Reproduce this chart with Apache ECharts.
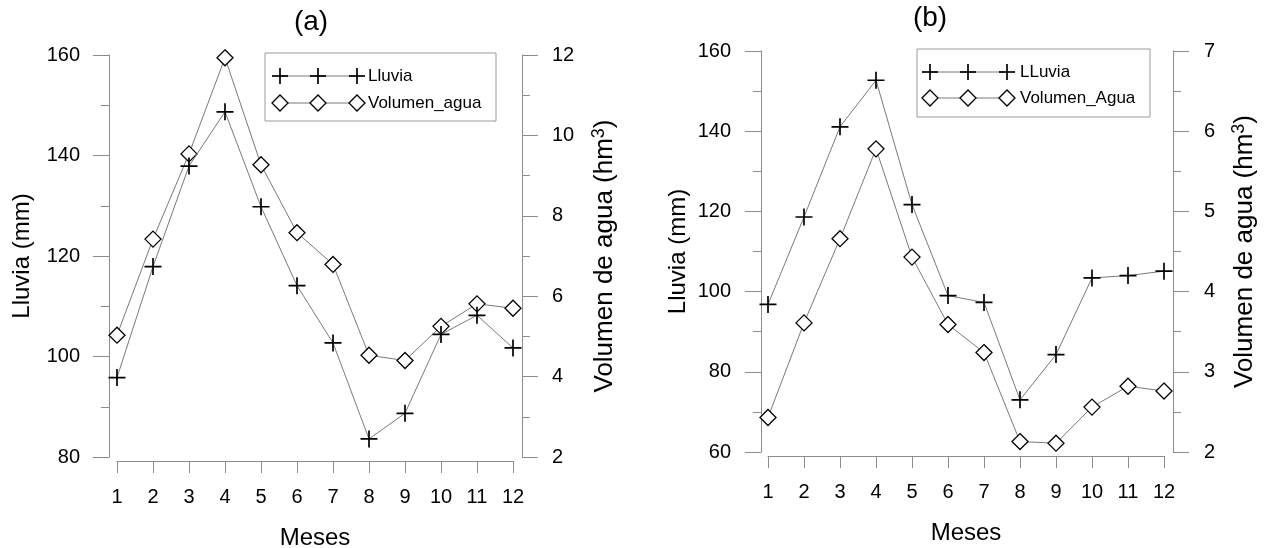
<!DOCTYPE html>
<html>
<head>
<meta charset="utf-8">
<script src="https://cdn.jsdelivr.net/npm/echarts@6/dist/echarts.min.js"></script>
<style>
  html, body { margin: 0; padding: 0; background: #fff; }
  #chart { width: 1265px; height: 548px; }
</style>
</head>
<body>
<div id="chart"></div>
<script>
// Months on the horizontal axis
const meses = ['1', '2', '3', '4', '5', '6', '7', '8', '9', '10', '11', '12'];

// Panel (a): monthly rainfall (mm) and water volume (hm3)
const lluviaA  = [95.8, 117.9, 137.9, 148.7, 129.8, 114.1, 102.7, 83.6, 88.7, 104.4, 108.2, 101.7];
const volumenA = [5.03, 7.42, 9.54, 11.93, 9.27, 7.58, 6.79, 4.53, 4.40, 5.25, 5.81, 5.70];

// Panel (b): monthly rainfall (mm) and water volume (hm3)
const lluviaB  = [96.8, 118.6, 141.1, 152.7, 121.7, 99.0, 97.3, 73.0, 84.3, 103.4, 104.0, 105.1];
const volumenB = [2.43, 3.61, 4.66, 5.78, 4.43, 3.59, 3.24, 2.13, 2.11, 2.56, 2.82, 2.76];

// Axis ranges and tick steps
const lluviaAxisA  = { min: 80, max: 160, interval: 20 };
const volumenAxisA = { min: 2,  max: 12,  interval: 2 };
const lluviaAxisB  = { min: 60, max: 160, interval: 20 };
const volumenAxisB = { min: 2,  max: 7,   interval: 1 };

// Texts
const titles = ['(a)', '(b)'];
const legendA = ['Lluvia', 'Volumen_agua'];
const legendB = ['LLuvia', 'Volumen_Agua'];
const xName = 'Meses';
const yLeftName = 'Lluvia (mm)';

const FONT = '"Liberation Sans", Arial, Helvetica, sans-serif';
const AXIS_GRAY = '#8c8c8c';
const LINE_GRAY = '#7a7a7a';

// Filled plus-sign marker
const CROSS = 'path://M7.2,0H8.8V7.2H16V8.8H8.8V16H7.2V8.8H0V7.2H7.2Z';

const chart = echarts.init(document.getElementById('chart'), null, { renderer: 'canvas' });

function xAxisFor(gridIndex) {
  return {
    type: 'category',
    gridIndex: gridIndex,
    data: meses,
    boundaryGap: false,
    offset: 4,
    axisLine: { show: true, lineStyle: { color: AXIS_GRAY, width: 1 } },
    axisTick: { show: true, length: 12, inside: false, lineStyle: { color: AXIS_GRAY } },
    axisLabel: { interval: 0, margin: 26, color: '#000', fontSize: 20, fontFamily: FONT },
    splitLine: { show: false },
    name: xName,
    nameLocation: 'middle',
    nameGap: 65,
    nameTextStyle: { color: '#000', fontSize: 24, fontFamily: FONT }
  };
}

function yAxisFor(gridIndex, range, position, offset, name, nameGap, labelMargin, nameSize) {
  return {
    type: 'value',
    gridIndex: gridIndex,
    position: position,
    offset: offset,
    min: range.min,
    max: range.max,
    interval: range.interval,
    axisLine: { show: true, lineStyle: { color: AXIS_GRAY, width: 1 } },
    axisTick: { show: true, length: 16, inside: false, lineStyle: { color: AXIS_GRAY } },
    minorTick: { show: true, splitNumber: 2, length: 8, lineStyle: { color: AXIS_GRAY } },
    axisLabel: { margin: labelMargin, color: '#000', fontSize: 20, fontFamily: FONT },
    splitLine: { show: false },
    minorSplitLine: { show: false },
    name: name,
    nameLocation: 'middle',
    nameGap: nameGap,
    nameRotate: 90,
    nameTextStyle: {
      color: '#000', fontSize: nameSize, fontFamily: FONT, lineHeight: 30,
      rich: {
        sup: { fontSize: 18, fontFamily: FONT, color: '#000', verticalAlign: 'top', lineHeight: 30 }
      }
    }
  };
}

function lluviaSeries(name, data, xi, yi) {
  return {
    type: 'line', name: name, data: data,
    xAxisIndex: xi, yAxisIndex: yi,
    symbol: CROSS, symbolSize: 17,
    clip: false,
    lineStyle: { color: LINE_GRAY, width: 1 },
    itemStyle: { color: '#000', borderWidth: 0 },
    emphasis: { disabled: true },
    z: 3
  };
}

function volumenSeries(name, data, xi, yi) {
  return {
    type: 'line', name: name, data: data,
    xAxisIndex: xi, yAxisIndex: yi,
    symbol: 'diamond', symbolSize: 16,
    clip: false,
    lineStyle: { color: LINE_GRAY, width: 1 },
    itemStyle: { color: '#fff', borderColor: '#000', borderWidth: 1.3 },
    emphasis: { disabled: true },
    z: 2
  };
}

// Hand-built legend box: three markers joined by a line, then the label
function legendBox(left, top, width, height, labels, markerXs, textX, rowYs) {
  const children = [{
    type: 'rect',
    shape: { x: left, y: top, width: width, height: height },
    style: { fill: '#fff', stroke: '#9a9a9a', lineWidth: 1 }
  }];
  const y1 = top + rowYs[0], y2 = top + rowYs[1];
  const x0 = left + markerXs[0], x2 = left + markerXs[2];
  children.push({ type: 'line', shape: { x1: x0, y1: y1, x2: x2, y2: y1 }, style: { stroke: LINE_GRAY, lineWidth: 1 } });
  children.push({ type: 'line', shape: { x1: x0, y1: y2, x2: x2, y2: y2 }, style: { stroke: LINE_GRAY, lineWidth: 1 } });
  markerXs.forEach(function (mx) {
    const cx = left + mx;
    children.push({ type: 'line', shape: { x1: cx - 8, y1: y1, x2: cx + 8, y2: y1 }, style: { stroke: '#000', lineWidth: 1.7 } });
    children.push({ type: 'line', shape: { x1: cx, y1: y1 - 8, x2: cx, y2: y1 + 8 }, style: { stroke: '#000', lineWidth: 1.7 } });
    children.push({
      type: 'polygon',
      shape: { points: [[cx - 8, y2], [cx, y2 - 8], [cx + 8, y2], [cx, y2 + 8]] },
      style: { fill: '#fff', stroke: '#000', lineWidth: 1.3 }
    });
  });
  children.push({ type: 'text', x: left + textX, y: y1, style: { text: labels[0], fill: '#000', fontSize: 17, fontFamily: FONT, verticalAlign: 'middle', align: 'left' } });
  children.push({ type: 'text', x: left + textX, y: y2, style: { text: labels[1], fill: '#000', fontSize: 17, fontFamily: FONT, verticalAlign: 'middle', align: 'left' } });
  return { type: 'group', silent: true, children: children };
}

const volName = 'Volumen de agua (hm{sup|3})';

const option = {
  backgroundColor: '#fff',
  animation: false,
  textStyle: { fontFamily: FONT },
  grid: [
    { left: 117, top: 55, width: 396, height: 402, outerBoundsMode: 'none', containLabel: false },
    { left: 768, top: 51, width: 396, height: 401, outerBoundsMode: 'none', containLabel: false }
  ],
  xAxis: [xAxisFor(0), xAxisFor(1)],
  yAxis: [
    yAxisFor(0, lluviaAxisA, 'left', 8, yLeftName, 72, 29, 24),
    yAxisFor(0, volumenAxisA, 'right', 9, volName, 68, 30, 26),
    yAxisFor(1, lluviaAxisB, 'left', 7, yLeftName, 66, 30, 24),
    yAxisFor(1, volumenAxisB, 'right', 9, volName, 57, 31, 26)
  ],
  series: [
    volumenSeries(legendA[1], volumenA, 0, 1),
    lluviaSeries(legendA[0], lluviaA, 0, 0),
    volumenSeries(legendB[1], volumenB, 1, 3),
    lluviaSeries(legendB[0], lluviaB, 1, 2)
  ],
  graphic: [
    { type: 'text', x: 311, y: 22, silent: true, style: { text: titles[0], fill: '#000', fontSize: 28, fontFamily: FONT, align: 'center', verticalAlign: 'middle' } },
    { type: 'text', x: 930, y: 18, silent: true, style: { text: titles[1], fill: '#000', fontSize: 28, fontFamily: FONT, align: 'center', verticalAlign: 'middle' } },
    legendBox(265, 53, 231, 68, legendA, [15, 53, 92], 103, [23, 50]),
    legendBox(917, 49, 233, 68, legendB, [13, 51, 90], 103, [23, 49])
  ]
};

chart.setOption(option);
</script>
</body>
</html>
